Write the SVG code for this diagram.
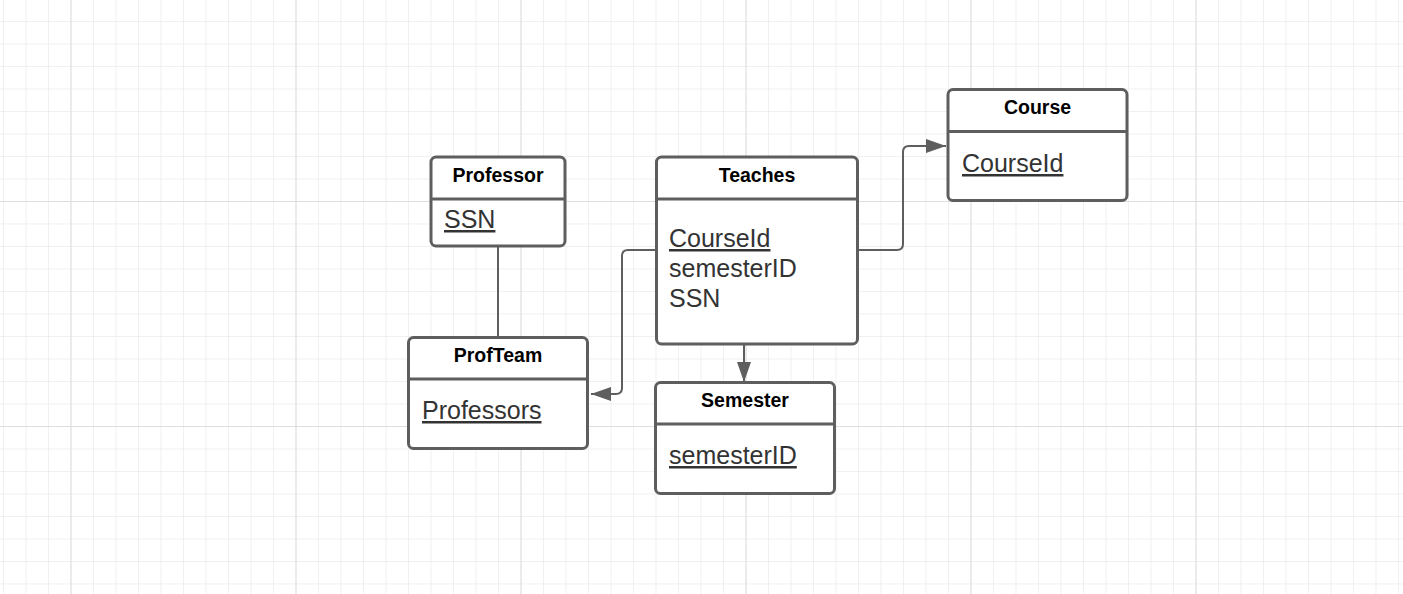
<svg xmlns="http://www.w3.org/2000/svg" width="1403" height="594" viewBox="0 0 1403 594">
<defs>
<pattern id="minor" x="3" y="21" width="22.5" height="22.5" patternUnits="userSpaceOnUse">
<path d="M0 0H22.5M0 0V22.5" fill="none" stroke="#ececec" stroke-width="1.5"/>
</pattern>
<pattern id="major" x="70.5" y="201" width="225" height="225" patternUnits="userSpaceOnUse">
<path d="M0 0H225M0 0V225" fill="none" stroke="#dedede" stroke-width="2"/>
</pattern>
<marker id="arr" viewBox="0 0 20 14" refX="20" refY="7" markerWidth="20" markerHeight="14" markerUnits="userSpaceOnUse" orient="auto">
<path d="M0 0L20 7L0 14Z" fill="#5e5e5e"/>
</marker>
</defs>
<style>
.box{fill:#fff;stroke:#5e5e5e;stroke-width:3}
.div{stroke:#5e5e5e;stroke-width:3}
.title{font-family:"Liberation Sans",Arial,sans-serif;font-weight:bold;font-size:19.5px;fill:#000;text-anchor:middle}
.attr{font-family:"Liberation Sans",Arial,sans-serif;font-size:25px;fill:#333}
.u{text-decoration:underline}
.conn{fill:none;stroke:#5e5e5e;stroke-width:2}
</style>
<rect width="1403" height="594" fill="#fff"/>
<rect width="1403" height="594" fill="url(#minor)"/>
<rect width="1403" height="594" fill="url(#major)"/>
<g id="connectors">
<path class="conn" d="M498 247V337"/>
<path class="conn" d="M744 345V382" marker-end="url(#arr)"/>
<path class="conn" d="M656 250H628Q622 250 622 256V388Q622 394 616 394H591" marker-end="url(#arr)"/>
<path class="conn" d="M859 250H897Q903 250 903 244V152Q903 146 909 146H946" marker-end="url(#arr)"/>
</g>
<g id="professor">
<rect class="box" x="431" y="157" width="134" height="89" rx="5"/>
<line class="div" x1="431" y1="199" x2="565" y2="199"/>
<text class="title" x="498" y="182">Professor</text>
<text class="attr u" x="444" y="228">SSN</text>
</g>
<g id="teaches">
<rect class="box" x="656.5" y="157" width="201" height="187" rx="5"/>
<line class="div" x1="656.5" y1="199" x2="857.5" y2="199"/>
<text class="title" x="757" y="182">Teaches</text>
<text class="attr u" x="669" y="247">CourseId</text>
<text class="attr" x="669" y="277">semesterID</text>
<text class="attr" x="669" y="307">SSN</text>
</g>
<g id="course">
<rect class="box" x="948" y="89.5" width="179" height="111" rx="5"/>
<line class="div" x1="948" y1="131.5" x2="1127" y2="131.5"/>
<text class="title" x="1037.5" y="114">Course</text>
<text class="attr u" x="962" y="172">CourseId</text>
</g>
<g id="profteam">
<rect class="box" x="408.5" y="337.5" width="179" height="111" rx="5"/>
<line class="div" x1="408.5" y1="379" x2="587.5" y2="379"/>
<text class="title" x="498" y="362">ProfTeam</text>
<text class="attr u" x="422" y="419">Professors</text>
</g>
<g id="semester">
<rect class="box" x="655.5" y="382.5" width="179" height="111" rx="5"/>
<line class="div" x1="655.5" y1="424" x2="834.5" y2="424"/>
<text class="title" x="745" y="407">Semester</text>
<text class="attr u" x="669" y="464">semesterID</text>
</g>
</svg>
